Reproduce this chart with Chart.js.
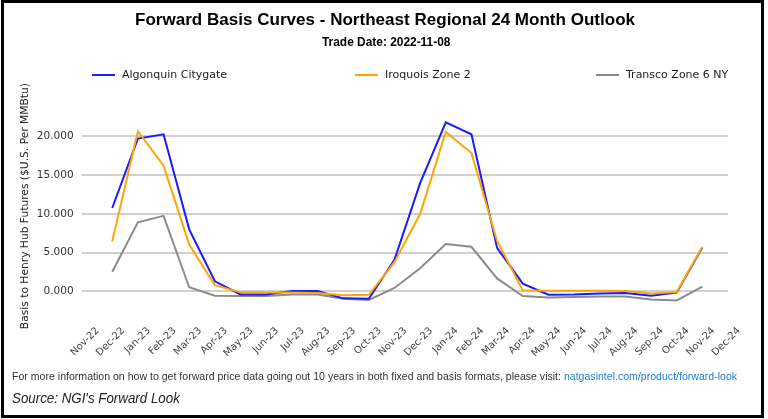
<!DOCTYPE html>
<html lang="en">
<head>
<meta charset="utf-8">
<title>Forward Basis Curves - Northeast Regional 24 Month Outlook</title>
<style>
  body { margin: 0; width: 768px; height: 419px; background: #fff; position: relative; overflow: hidden; font-family: 'DejaVu Sans', sans-serif; }
  #frame { position: absolute; left: 1px; top: 0; width: 757px; height: 412px; border: 3px solid #000; }
  .fit { position: absolute; white-space: nowrap; transform-origin: 0 50%; line-height: 1; }
  #title { font: bold 16.5px 'Liberation Sans Narrow', 'Liberation Sans', sans-serif; color: #000; }
  #subtitle { font: bold 12px 'Liberation Sans', sans-serif; color: #000; }
  #note { font: 11px 'Liberation Sans', sans-serif; color: #333; }
  #note span { color: #1a7fd4; }
  #source { font: italic 15px 'Liberation Sans', sans-serif; color: #222; }
  .leg { position: absolute; top: 68px; height: 14px; font: 11px 'DejaVu Sans', sans-serif; color: #222; white-space: nowrap; }
  .leg i { position: absolute; left: 0; top: 6px; width: 23px; height: 2px; }
  .leg b { position: absolute; left: 30px; top: 0; font-weight: normal; }
  #chartBox { position: absolute; left: 0; top: 0; width: 768px; height: 419px; }
</style>
</head>
<body>
<div id="chartBox"><canvas id="myChart" width="768" height="419"></canvas></div>
<div id="frame"></div>
<div id="title" class="fit" data-x="135" data-y="19" data-w="500">Forward Basis Curves - Northeast Regional 24 Month Outlook</div>
<div id="subtitle" class="fit" data-x="322" data-y="42" data-w="128">Trade Date: 2022-11-08</div>
<div id="legend"></div>
<div id="note" class="fit" data-x="12" data-y="376" data-w="725">For more information on how to get forward price data going out 10 years in both fixed and basis formats, please visit: <span>natgasintel.com/product/forward-look</span></div>
<div id="source" class="fit" data-x="12" data-y="397" data-w="168">Source: NGI's Forward Look</div>

<script src="https://cdn.jsdelivr.net/npm/chart.js@4.4.0/dist/chart.umd.min.js"></script>
<script>
// データ（$/MMBtu, Henry Hub比）
const months = ['Nov-22', 'Dec-22', 'Jan-23', 'Feb-23', 'Mar-23', 'Apr-23', 'May-23', 'Jun-23', 'Jul-23', 'Aug-23', 'Sep-23', 'Oct-23',
  'Nov-23', 'Dec-23', 'Jan-24', 'Feb-24', 'Mar-24', 'Apr-24', 'May-24', 'Jun-24', 'Jul-24', 'Aug-24', 'Sep-24', 'Oct-24', 'Nov-24', 'Dec-24'];
const seriesNames = ['Algonquin Citygate', 'Iroquois Zone 2', 'Transco Zone 6 NY'];
const algonquin = [null, 10.75, 19.70, 20.26, 8.00, 1.30, -0.40, -0.40, 0.05, 0.05, -0.90, -0.96,
  4.08, 13.95, 21.80, 20.26, 5.60, 1.00, -0.43, -0.40, -0.26, -0.20, -0.56, -0.17, 5.65, null];
const iroquois = [null, 6.45, 20.65, 16.20, 6.05, 0.80, -0.13, -0.15, -0.15, -0.20, -0.50, -0.44,
  3.77, 10.00, 20.57, 17.85, 6.50, 0.13, 0.09, 0.09, 0.09, 0.04, -0.26, -0.09, 5.74, null];
const transco = [null, 2.54, 8.90, 9.74, 0.53, -0.57, -0.60, -0.60, -0.40, -0.40, -0.95, -1.10,
  0.44, 2.98, 6.10, 5.75, 1.67, -0.60, -0.78, -0.74, -0.65, -0.65, -1.04, -1.17, 0.60, null];
const yTicks = [0, 5, 10, 15, 20];

const colors = ['#1a1aff', '#ffa500', '#8c8c8c'];
const legendLeft = [92, 355, 596];

// 文字幅を元画像に合わせる
document.querySelectorAll('.fit').forEach(function (el) {
  const w = el.offsetWidth, h = el.offsetHeight;
  el.style.left = el.dataset.x + 'px';
  el.style.top = (el.dataset.y - h / 2) + 'px';
  el.style.transform = 'scaleX(' + (el.dataset.w / w) + ')';
});

// 凡例
const legend = document.getElementById('legend');
seriesNames.forEach(function (name, i) {
  const d = document.createElement('div');
  d.className = 'leg';
  d.style.left = legendLeft[i] + 'px';
  d.innerHTML = '<i style="background:' + colors[i] + '"></i><b>' + name + '</b>';
  legend.appendChild(d);
});

const ctx = document.getElementById('myChart').getContext('2d');
const chart = new Chart(ctx, {
  type: 'line',
  data: {
    labels: months,
    datasets: [
      { label: seriesNames[0], data: algonquin, borderColor: colors[0], order: 1 },
      { label: seriesNames[1], data: iroquois, borderColor: colors[1], order: 0 },
      { label: seriesNames[2], data: transco, borderColor: colors[2], order: 2 }
    ]
  },
  options: {
    responsive: false,
    animation: false,
    devicePixelRatio: 1,
    layout: { padding: { left: 8, top: 105.3, right: 40, bottom: 49.6 } },
    elements: {
      line: { borderWidth: 2, tension: 0, fill: false },
      point: { radius: 0, hoverRadius: 0 }
    },
    plugins: { legend: { display: false }, tooltip: { enabled: false } },
    scales: {
      x: {
        offset: false,
        grid: { display: false },
        border: { display: false },
        ticks: {
          autoSkip: false, maxRotation: 45, minRotation: 45, labelOffset: 11, padding: 10,
          color: '#444', font: { family: 'DejaVu Sans', size: 10 }
        }
      },
      y: {
        min: -2,
        max: 24,
        afterBuildTicks: function (axis) { axis.ticks = yTicks.map(function (v) { return { value: v }; }); },
        grid: { color: '#d0d0d0', lineWidth: 2, drawTicks: true, tickLength: 5, tickColor: '#d0d0d0' },
        border: { display: false },
        ticks: {
          padding: 8, color: '#333', font: { family: 'DejaVu Sans', size: 10.5 },
          callback: function (v) { return v.toFixed(3); }
        },
        title: {
          display: true, text: 'Basis to Henry Hub Futures ($U.S. Per MMBtu)',
          color: '#222', font: { family: 'DejaVu Sans', size: 10.7 },
          padding: { top: 11, bottom: -3 }
        }
      }
    }
  }
});
</script>
</body>
</html>
